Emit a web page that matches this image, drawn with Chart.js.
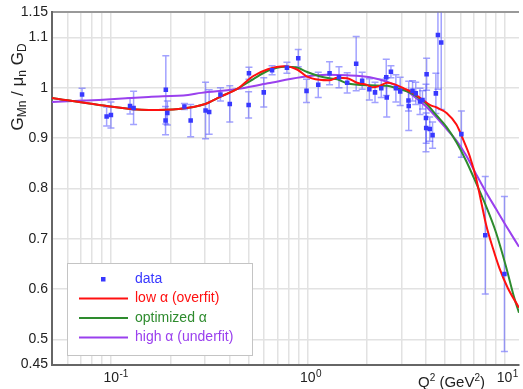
<!DOCTYPE html>
<html>
<head>
<meta charset="utf-8">
<script src="https://cdn.jsdelivr.net/npm/chart.js@4"></script>
<style>
  html, body { margin: 0; padding: 0; background: #fff; }
  canvas { display: block; }
</style>
</head>
<body>
<canvas id="fit" width="523" height="389"></canvas>
<script>
// measured points (Q2 in GeV2, ratio, error)
var dataQ2 = [0.0711, 0.0948, 0.0997, 0.1247, 0.130, 0.1896, 0.189, 0.193, 0.2357, 0.2536,
  0.302, 0.315, 0.3594, 0.401, 0.502, 0.500, 0.597, 0.658, 0.783, 0.894,
  0.985, 1.13, 1.29, 1.441, 1.586, 1.762, 1.89, 2.056, 2.197, 2.364,
  2.506, 2.52, 2.647, 2.805, 2.95, 3.25, 3.26, 3.41, 3.54, 3.72,
  3.83, 3.99, 4.02, 4.0, 4.17, 4.31, 4.48, 4.59, 4.77, 6.04, 7.99, 10.0];
var dataG = [0.987, 0.943, 0.946, 0.964, 0.960, 0.996, 0.935, 0.950, 0.963, 0.935,
  0.955, 0.952, 0.987, 0.968, 1.029, 0.966, 0.991, 1.035, 1.040, 1.059,
  0.994, 1.006, 1.029, 1.021, 1.010, 1.048, 1.014, 0.997, 0.991, 0.999,
  1.021, 0.981, 1.032, 0.999, 0.993, 0.975, 0.964, 0.994, 0.989, 0.973,
  0.976, 0.940, 1.027, 0.920, 0.918, 0.906, 0.989, 1.105, 1.090, 0.908, 0.707, 0.630];
var dataErr = [0.012, 0.019, 0.026, 0.016, 0.033, 0.068, 0.028, 0.024, 0.006, 0.032,
  0.056, 0.044, 0.013, 0.036, 0.012, 0.026, 0.029, 0.009, 0.011, 0.017,
  0.023, 0.025, 0.023, 0.021, 0.020, 0.054, 0.017, 0.021, 0.020, 0.018,
  0.036, 0.039, 0.012, 0.027, 0.028, 0.021, 0.049, 0.020, 0.022, 0.026,
  0.018, 0.067, 0.032, 0.030, 0.024, 0.026, 0.040, 0.108, 0.133, 0.046, 0.117, 0.154];

// low alpha (overfit)
var lowQ2 = [0.05, 0.0867, 0.155, 0.22, 0.301, 0.358, 0.442, 0.526, 0.626, 0.762,
  0.887, 0.985, 1.146, 1.287, 1.413, 1.586, 1.78, 2.0, 2.12, 2.33,
  2.53, 2.77, 3.08, 3.46, 3.88, 4.17, 4.52, 5.08, 5.70, 6.17,
  6.65, 7.19, 7.62, 8.08, 8.74, 9.44, 10.4, 11.86];
var lowG = [0.980, 0.966, 0.956, 0.958, 0.968, 0.982, 0.999, 1.023, 1.037, 1.043,
  1.036, 1.023, 1.016, 1.015, 1.020, 1.019, 1.010, 1.006, 1.001, 1.004,
  1.010, 1.007, 0.999, 0.989, 0.975, 0.966, 0.961, 0.950, 0.927, 0.897,
  0.865, 0.819, 0.773, 0.727, 0.681, 0.641, 0.602, 0.563];

// optimized alpha
var optQ2 = [0.05, 0.0867, 0.155, 0.22, 0.301, 0.358, 0.442, 0.526, 0.626, 0.762,
  0.887, 0.985, 1.146, 1.287, 1.413, 1.586, 2.07, 2.53, 2.84, 3.19,
  3.58, 4.02, 4.52, 5.08, 5.70, 6.40, 7.19, 8.08, 9.07, 10.15, 11.23, 11.86];
var optG = [0.980, 0.966, 0.956, 0.958, 0.968, 0.982, 0.999, 1.017, 1.034, 1.042,
  1.040, 1.032, 1.023, 1.019, 1.017, 1.009, 1.005, 1.004, 0.999, 0.993,
  0.983, 0.968, 0.945, 0.922, 0.892, 0.854, 0.810, 0.764, 0.712, 0.647, 0.582, 0.553];

// high alpha (underfit)
var highQ2 = [0.05, 0.0867, 0.155, 0.246, 0.287, 0.425, 0.626, 0.92, 1.25, 1.586,
  2.07, 2.53, 3.08, 3.58, 4.02, 4.52, 5.08, 5.70, 6.40, 7.19, 8.08, 9.07, 10.15, 11.86];
var highG = [0.972, 0.976, 0.982, 0.986, 0.990, 0.997, 1.009, 1.021, 1.026, 1.025,
  1.021, 1.012, 0.997, 0.979, 0.962, 0.941, 0.918, 0.895, 0.865, 0.828, 0.792, 0.759, 0.727, 0.684];

// axis ticks
var xTicks = [0.05, 0.06, 0.07, 0.08, 0.09, 0.1, 0.2, 0.3, 0.4, 0.5, 0.6, 0.7, 0.8, 0.9,
  1, 2, 3, 4, 5, 6, 7, 8, 9, 10];
var xDecades = [0.1, 1, 10];
var xExponents = ["-1", "0", "1"];
var yTicks = [0.45, 0.5, 0.6, 0.7, 0.8, 0.9, 1, 1.1, 1.15];

var FONT = "'Liberation Sans', Arial, sans-serif";

function pts(xs, ys) {
  return xs.map(function(x, i) { return { x: x, y: ys[i] }; });
}

// error bars under the markers
var errorBars = {
  id: "errorBars",
  beforeDatasetsDraw: function(chart) {
    var c = chart.ctx, xs = chart.scales.x, ys = chart.scales.y, a = chart.chartArea;
    c.save();
    c.beginPath();
    c.rect(a.left, a.top, a.right - a.left, a.bottom - a.top);
    c.clip();
    c.strokeStyle = "rgba(70,70,255,0.5)";
    c.lineWidth = 1.5;
    for (var i = 0; i < dataQ2.length; i++) {
      var x = xs.getPixelForValue(dataQ2[i]);
      var y1 = ys.getPixelForValue(dataG[i] + dataErr[i]);
      var y2 = ys.getPixelForValue(dataG[i] - dataErr[i]);
      c.beginPath();
      c.moveTo(x, y1); c.lineTo(x, y2);
      c.moveTo(x - 3.5, y1); c.lineTo(x + 3.5, y1);
      c.moveTo(x - 3.5, y2); c.lineTo(x + 3.5, y2);
      c.stroke();
    }
    c.restore();
  }
};

// draws a run of text pieces, some raised or lowered
function drawPieces(c, pieces, x, y, big, small) {
  pieces.forEach(function(p) {
    c.font = (p[1] ? small : big) + "px " + FONT;
    c.fillText(p[0], x, y + p[1]);
    x += c.measureText(p[0]).width;
  });
}
function piecesWidth(c, pieces, big, small) {
  var w = 0;
  pieces.forEach(function(p) {
    c.font = (p[1] ? small : big) + "px " + FONT;
    w += c.measureText(p[0]).width;
  });
  return w;
}

var axisText = {
  id: "axisText",
  afterDraw: function(chart) {
    var c = chart.ctx, xs = chart.scales.x;
    c.save();
    c.fillStyle = "#222";
    c.textBaseline = "alphabetic";

    // decade labels 10^n
    xDecades.forEach(function(v, i) {
      var px = xs.getPixelForValue(v);
      c.font = "14px " + FONT;
      var w = c.measureText("10").width;
      c.fillText("10", px - w / 2, 382);
      c.font = "10px " + FONT;
      c.fillText(xExponents[i], px + w / 2 + 0.5, 376.5);
    });

    // x title
    drawPieces(c, [["Q", 0], ["2", -6], [" (GeV", 0], ["2", -6], [")", 0]], 418, 387, 15, 10);

    // y title, rotated
    var yp = [["G", 0], ["Mn", 3], [" / ", 0], ["μ", 0], ["n", 3], [" ", 0], ["G", 0], ["D", 3]];
    var tw = piecesWidth(c, yp, 17, 12);
    c.translate(23, 87 + tw / 2);
    c.rotate(-Math.PI / 2);
    drawPieces(c, yp, 0, 0, 17, 12);
    c.restore();
  }
};

var legendBox = {
  id: "legendBox",
  afterDraw: function(chart) {
    var c = chart.ctx;
    c.save();
    c.fillStyle = "#fff";
    c.fillRect(67, 263, 185, 93);
    c.strokeStyle = "#c4c4c4";
    c.lineWidth = 1;
    c.strokeRect(67.5, 263.5, 185, 92);
    c.font = "14px " + FONT;
    c.textBaseline = "middle";
    chart.data.datasets.forEach(function(ds, i) {
      var y = 279 + i * 19.5;
      if (ds.showLine) {
        c.strokeStyle = ds.borderColor;
        c.lineWidth = 2;
        c.beginPath();
        c.moveTo(79, y); c.lineTo(128, y);
        c.stroke();
      } else {
        c.fillStyle = ds.backgroundColor;
        c.fillRect(101, y - 2, 4.5, 4.5);
      }
      c.fillStyle = ds.borderColor;
      c.fillText(ds.label, 135, y);
    });
    c.restore();
  }
};

var ctx = document.getElementById("fit").getContext("2d");
var chart = new Chart(ctx, {
  type: "scatter",
  data: {
    datasets: [
      {
        label: "data",
        data: pts(dataQ2, dataG),
        showLine: false,
        pointStyle: "rect",
        pointRadius: 3.2,
        backgroundColor: "#3838ff",
        borderColor: "#3838ff",
        borderWidth: 0
      },
      {
        label: "low α (overfit)",
        data: pts(lowQ2, lowG),
        showLine: true,
        borderColor: "#ff1010",
        borderWidth: 2,
        pointRadius: 0,
        cubicInterpolationMode: "monotone"
      },
      {
        label: "optimized α",
        data: pts(optQ2, optG),
        showLine: true,
        borderColor: "#2e8b2e",
        borderWidth: 2,
        pointRadius: 0,
        cubicInterpolationMode: "monotone"
      },
      {
        label: "high α (underfit)",
        data: pts(highQ2, highG),
        showLine: true,
        borderColor: "#9a40ee",
        borderWidth: 2,
        pointRadius: 0,
        cubicInterpolationMode: "monotone"
      }
    ]
  },
  options: {
    responsive: false,
    animation: false,
    layout: { padding: { top: 8, right: 0, left: 0, bottom: 0 } },
    plugins: { legend: { display: false }, tooltip: { enabled: false } },
    scales: {
      x: {
        type: "logarithmic",
        min: 0.05,
        max: 11.86,
        afterBuildTicks: function(s) {
          s.ticks = xTicks.map(function(v) { return { value: v }; });
        },
        afterFit: function(s) { s.height = 24.5; },
        ticks: { display: false },
        grid: { color: "#e2e2e2", lineWidth: 1.5, drawTicks: false },
        border: { color: "#666", width: 2 }
      },
      y: {
        min: 0.45,
        max: 1.15,
        afterBuildTicks: function(s) {
          s.ticks = yTicks.map(function(v) { return { value: v }; });
        },
        afterFit: function(s) { s.width = 52; },
        ticks: {
          autoSkip: false,
          padding: 4,
          color: "#222",
          font: { family: FONT, size: 14 },
          callback: function(v) { return String(+v.toFixed(2)); }
        },
        grid: {
          drawTicks: false,
          color: function(c) { return c.tick && c.tick.value === 1.15 ? "#999" : "#e2e2e2"; },
          lineWidth: function(c) { return c.tick && c.tick.value === 1.15 ? 2 : 1.5; }
        },
        border: { color: "#666", width: 2 }
      }
    }
  },
  plugins: [errorBars, axisText, legendBox]
});
</script>
</body>
</html>
